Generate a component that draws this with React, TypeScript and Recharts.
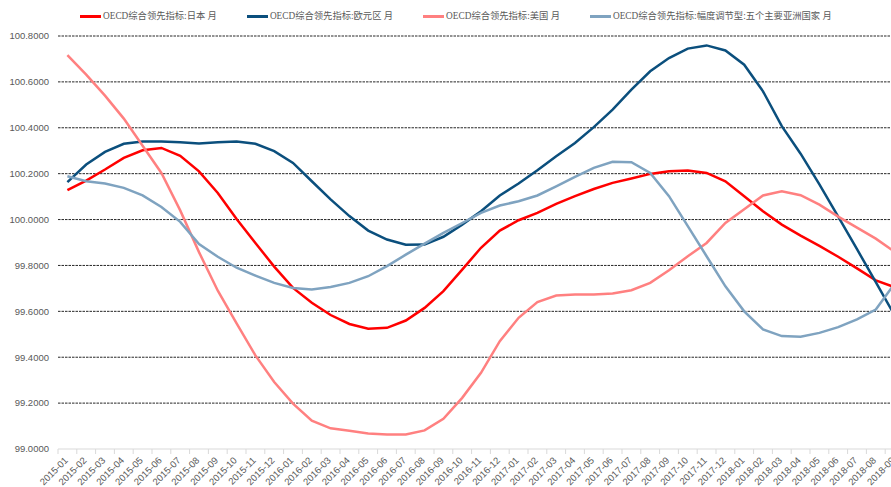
import React from 'react';
import { LineChart, Line, XAxis, YAxis, CartesianGrid } from 'recharts';

const MONTHS = [
  '2015-01', '2015-02', '2015-03', '2015-04', '2015-05', '2015-06', '2015-07', '2015-08', '2015-09',
  '2015-10', '2015-11', '2015-12', '2016-01', '2016-02', '2016-03', '2016-04', '2016-05', '2016-06',
  '2016-07', '2016-08', '2016-09', '2016-10', '2016-11', '2016-12', '2017-01', '2017-02', '2017-03',
  '2017-04', '2017-05', '2017-06', '2017-07', '2017-08', '2017-09', '2017-10', '2017-11', '2017-12',
  '2018-01', '2018-02', '2018-03', '2018-04', '2018-05', '2018-06', '2018-07', '2018-08', '2018-09',
];

const JAPAN = [
  100.128, 100.170, 100.218, 100.269, 100.302, 100.312, 100.278, 100.210, 100.116,
  100.002, 99.898, 99.795, 99.702, 99.637, 99.584, 99.545, 99.524, 99.528,
  99.560, 99.615, 99.688, 99.782, 99.877, 99.952, 99.997, 100.029, 100.068,
  100.102, 100.133, 100.160, 100.179, 100.199, 100.211, 100.214, 100.203, 100.167,
  100.102, 100.036, 99.978, 99.930, 99.885, 99.838, 99.787, 99.735, 99.705,
];

const EURO_AREA = [
  100.163, 100.240, 100.295, 100.330, 100.340, 100.340, 100.337, 100.332, 100.337,
  100.340, 100.330, 100.298, 100.247, 100.167, 100.088, 100.015, 99.952, 99.913,
  99.890, 99.891, 99.925, 99.978, 100.036, 100.105, 100.157, 100.215, 100.276,
  100.334, 100.403, 100.479, 100.566, 100.646, 100.704, 100.745, 100.759, 100.737,
  100.675, 100.559, 100.407, 100.287, 100.153, 100.013, 99.871, 99.727, 99.583,
];

const USA = [
  100.717, 100.632, 100.540, 100.440, 100.322, 100.203, 100.040, 99.858, 99.690,
  99.548, 99.408, 99.292, 99.198, 99.123, 99.090, 99.080, 99.068, 99.063,
  99.063, 99.081, 99.132, 99.223, 99.332, 99.470, 99.572, 99.640, 99.669,
  99.673, 99.673, 99.678, 99.692, 99.724, 99.779, 99.840, 99.898, 99.985,
  100.045, 100.105, 100.123, 100.106, 100.065, 100.013, 99.965, 99.917, 99.860,
];

const ASIA_FIVE = [
  100.189, 100.167, 100.157, 100.138, 100.105, 100.055, 99.990, 99.893, 99.838,
  99.790, 99.756, 99.724, 99.702, 99.695, 99.706, 99.724, 99.753, 99.797,
  99.847, 99.895, 99.942, 99.985, 100.029, 100.061, 100.080, 100.105, 100.145,
  100.186, 100.225, 100.252, 100.250, 100.203, 100.102, 99.971, 99.840, 99.709,
  99.600, 99.521, 99.492, 99.489, 99.506, 99.531, 99.565, 99.608, 99.720,
];

const Y_TICKS = [99, 99.2, 99.4, 99.6, 99.8, 100, 100.2, 100.4, 100.6, 100.8];

const SERIES = [
  { key: 'japan', name: 'OECD综合领先指标:日本 月', color: '#FF0000', values: JAPAN },
  { key: 'euro', name: 'OECD综合领先指标:欧元区 月', color: '#0B4F7D', values: EURO_AREA },
  { key: 'usa', name: 'OECD综合领先指标:美国 月', color: '#FF8080', values: USA },
  { key: 'asia', name: 'OECD综合领先指标:幅度调节型:五个主要亚洲国家 月', color: '#7FA3C0', values: ASIA_FIVE },
];

const rows = MONTHS.map((month, i) => {
  const row: Record<string, string | number> = { month };
  SERIES.forEach((s) => {
    row[s.key] = s.values[i];
  });
  return row;
});

const CHART_W = 914;
const CHART_H = 487;
const Y_AXIS_W = 58;
const RIGHT_GAP = 10;
const BAND = (CHART_W - Y_AXIS_W - RIGHT_GAP) / MONTHS.length;

const TEXT_GREY = '#595959';
const AXIS_GREY = '#d9d9d9';

// month label rotated 45deg, plus a tick mark on the left edge of each category
const MonthTick = (props: any) => {
  const { x, y, payload, index } = props;
  const edge = x - BAND / 2;
  return (
    <g>
      <line x1={edge} x2={edge} y1={y} y2={y + 5} stroke={AXIS_GREY} />
      {index === MONTHS.length - 1 && (
        <line x1={x + BAND / 2} x2={x + BAND / 2} y1={y} y2={y + 5} stroke={AXIS_GREY} />
      )}
      <text
        x={x + 1}
        y={y + 12}
        transform={`rotate(-45, ${x + 1}, ${y + 12})`}
        textAnchor="end"
        fontSize={9.5}
        fill={TEXT_GREY}
        fontFamily="'Liberation Sans', Arial, sans-serif"
      >
        {payload.value}
      </text>
    </g>
  );
};

const ChartLegend = () => (
  <div
    style={{
      position: 'absolute',
      top: 9,
      left: 80,
      display: 'flex',
      alignItems: 'center',
      gap: 30,
      whiteSpace: 'nowrap',
      fontFamily: "'Liberation Serif', 'Noto Sans CJK SC', serif",
      fontSize: 9.3,
      color: TEXT_GREY,
      lineHeight: '14px',
    }}
  >
    {SERIES.map((s) => (
      <div key={s.key} style={{ display: 'flex', alignItems: 'center' }}>
        <span style={{ display: 'inline-block', width: 21, height: 3, background: s.color, marginRight: 2 }} />
        <span>{s.name}</span>
      </div>
    ))}
  </div>
);

export default function App() {
  return (
    <div
      style={{
        position: 'absolute',
        left: 0,
        top: 0,
        width: 891,
        height: 487,
        overflow: 'hidden',
        background: '#fff',
      }}
    >
      <ChartLegend />
      <LineChart
        width={CHART_W}
        height={CHART_H}
        data={rows}
        margin={{ top: 36, right: RIGHT_GAP, bottom: 0, left: 0 }}
      >
        <CartesianGrid
          vertical={false}
          horizontalValues={Y_TICKS.slice(1)}
          stroke="#262626"
          strokeDasharray="2.5 1"
        />
        <XAxis
          dataKey="month"
          interval={0}
          height={38}
          padding={{ left: BAND / 2, right: BAND / 2 }}
          axisLine={{ stroke: AXIS_GREY }}
          tickLine={false}
          tickSize={0}
          tickMargin={0}
          tick={<MonthTick />}
        />
        <YAxis
          width={Y_AXIS_W}
          domain={[99, 100.8]}
          ticks={Y_TICKS}
          allowDataOverflow
          axisLine={false}
          tickLine={false}
          tickMargin={3}
          tickFormatter={(v: number) => v.toFixed(4)}
          tick={{ fontSize: 9.5, fill: TEXT_GREY, fontFamily: "'Liberation Sans', Arial, sans-serif" }}
        />
        {SERIES.map((s) => (
          <Line
            key={s.key}
            type="linear"
            dataKey={s.key}
            name={s.name}
            stroke={s.color}
            strokeWidth={2.5}
            dot={false}
            activeDot={false}
            isAnimationActive={false}
          />
        ))}
      </LineChart>
    </div>
  );
}
